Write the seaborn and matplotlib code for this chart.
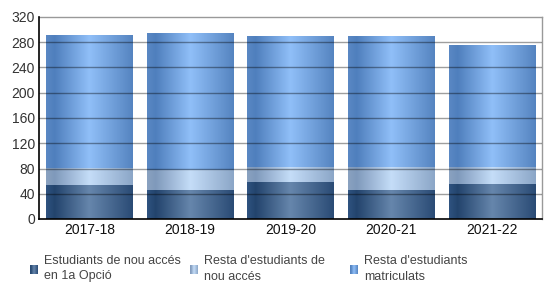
import numpy as np
import pandas as pd
import matplotlib
matplotlib.use("Agg")
import matplotlib.pyplot as plt
import seaborn as sns
from matplotlib.colors import LinearSegmentedColormap

# ---- data ----
years = ["2017-18", "2018-19", "2019-20", "2020-21", "2021-22"]
nou_acces_1a = [54, 46, 59, 46, 56]
resta_nou_acces = [26, 32, 23, 36, 26]
resta_matriculats = [210, 217, 206, 206, 192]
series_names = [["Estudiants de nou accés", "en 1a Opció"],
                ["Resta d'estudiants de", "nou accés"],
                ["Resta d'estudiants", "matriculats"]]
yticks = [0, 40, 80, 120, 160, 200, 240, 280, 320]

# gradient stops per series (left edge, darkest, lightest, right edge)
grad_colors = [
    ["#2f5380", "#23446d", "#6686ac", "#2a4b75"],
    ["#8aa2c0", "#7f99bb", "#c5ddf8", "#8ba6c7"],
    ["#5a88c4", "#4f7fbd", "#90bff8", "#5584c0"],
]
grad_pos = [0.0, 0.1, 0.5, 1.0]

sns.set_style("white")
plt.rcParams['font.family'] = ['Liberation Sans', 'DejaVu Sans']

fig = plt.figure(figsize=(5.5, 3.05), dpi=100)
ax = fig.add_axes([39/550, 1 - 219/305, 503/550, 202/305])

df = pd.DataFrame({"year": years,
                   "s1": nou_acces_1a, "s2": resta_nou_acces, "s3": resta_matriculats})
bottoms = [np.zeros(len(years)),
           np.array(nou_acces_1a, dtype=float),
           np.array(nou_acces_1a, dtype=float) + np.array(resta_nou_acces)]
cols = ["s1", "s2", "s3"]
for i, c in enumerate(cols):
    sns.barplot(data=df, x="year", y=c, ax=ax, bottom=bottoms[i],
                width=0.855, color=grad_colors[i][2], saturation=1,
                linewidth=0, errorbar=None, zorder=2)

cmaps = [LinearSegmentedColormap.from_list(f"g{i}", list(zip(grad_pos, gc)))
         for i, gc in enumerate(grad_colors)]
grad = np.linspace(0, 1, 256).reshape(1, -1)
patches = list(ax.patches)
n = len(years)
for k, p in enumerate(patches):
    si = k // n
    x0, y0 = p.get_x(), p.get_y()
    w, h = p.get_width(), p.get_height()
    p.set_visible(False)
    ax.imshow(grad, cmap=cmaps[si], aspect="auto",
              extent=(x0, x0 + w, y0, y0 + h), zorder=2, interpolation="bilinear")

ax.set_xlim(-0.5, len(years) - 0.5)
ax.set_ylim(0, 320)
ax.set_yticks(yticks)
ax.set_yticklabels([str(v) for v in yticks], fontsize=10, color="#333333")
ax.set_xticks(range(len(years)))
ax.set_xticklabels(years, fontsize=10, color="#111111")
ax.tick_params(axis="both", length=0, pad=3)
ax.set_xlabel("")
ax.set_ylabel("")

for v in yticks[1:-1]:
    ax.axhline(v, color="black", alpha=0.38, lw=1, zorder=3)

for s in ["top", "right"]:
    ax.spines[s].set_color("#999999")
    ax.spines[s].set_linewidth(1)
for s in ["left", "bottom"]:
    ax.spines[s].set_color("black")
    ax.spines[s].set_linewidth(1.2)
    ax.spines[s].set_zorder(4)

# ---- legend (manual) ----
marker_x = [30, 190, 350]
for i, lines in enumerate(series_names):
    mx = marker_x[i]
    lax = fig.add_axes([mx/550, 1 - 274/305, 8/550, 9/305])
    lax.imshow(grad, cmap=cmaps[i], aspect="auto", interpolation="bilinear")
    lax.axis("off")
    for j, line in enumerate(lines):
        fig.text((mx + 14)/550, 1 - (264 + 15.5*j)/305, line, ha="left",
                 va="baseline", fontsize=9, color="#444444")

fig.savefig("out.png", dpi=100)
